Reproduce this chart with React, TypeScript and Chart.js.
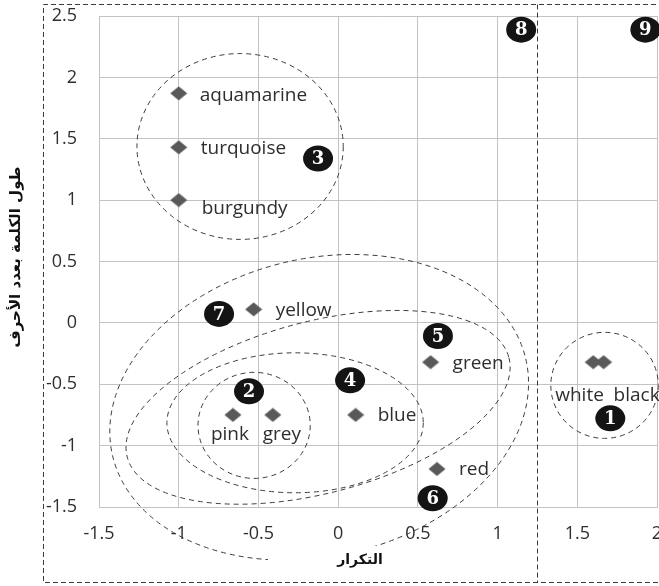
import React, { useEffect, useRef } from 'react';
import { Chart, registerables } from 'chart.js';

Chart.register(...registerables);

// ---------- data ----------
const words = ['aquamarine', 'turquoise', 'burgundy', 'yellow', 'pink', 'grey', 'blue', 'green', 'red', 'white', 'black'];
const frequency = [-1, -1, -1, -0.53, -0.66, -0.41, 0.11, 0.58, 0.62, 1.6, 1.665];
const wordLength = [1.87, 1.43, 1.0, 0.11, -0.75, -0.75, -0.75, -0.32, -1.19, -0.32, -0.32];

const xTickValues = [-1.5, -1, -0.5, 0, 0.5, 1, 1.5, 2];
const yTickValues = [-1.5, -1, -0.5, 0, 0.5, 1, 1.5, 2, 2.5];

const xTitle = 'التكرار';
const yTitle = 'طول الكلمة بعدد الأحرف';

// numbered group markers (data coordinates)
const groupNumbers = ['1', '2', '3', '4', '5', '6', '7', '8', '9'];
const groupX = [1.707, -0.559, -0.126, 0.075, 0.626, 0.593, -0.747, 1.148, 1.927];
const groupY = [-0.778, -0.558, 1.339, -0.468, -0.107, -1.429, 0.073, 2.389, 2.389];

// dashed cluster ellipses (data coordinates; radii along own axes)
const ellipseCx = [1.671, -0.527, -0.615, -0.27, -0.126, -0.119];
const ellipseCy = [-0.509, -0.835, 1.437, -0.814, -0.688, -0.688];
const ellipseRx = [0.337, 0.352, 0.647, 0.804, 1.237, 1.331];
const ellipseRy = [0.432, 0.432, 0.757, 0.57, 0.7, 1.213];
const ellipseTilt = [0, 0, 0, 0, -14.6, -13.2];

const dividerX = 1.25;

// ---------- label placement (style, not data) ----------
const labelPlacement: Record<string, { dx: number; dy: number; align: CanvasTextAlign }> = {
  aquamarine: { dx: 21, dy: 2, align: 'left' },
  turquoise: { dx: 22, dy: 1, align: 'left' },
  burgundy: { dx: 23, dy: 8, align: 'left' },
  yellow: { dx: 22, dy: 1, align: 'left' },
  pink: { dx: -3, dy: 20, align: 'center' },
  grey: { dx: 9, dy: 20, align: 'center' },
  blue: { dx: 22, dy: 1, align: 'left' },
  green: { dx: 22, dy: 1, align: 'left' },
  red: { dx: 22, dy: 1, align: 'left' },
  white: { dx: -38, dy: 33, align: 'left' },
  black: { dx: 10, dy: 33, align: 'left' },
};

const W = 659;
const H = 586;
const GRID = '#c3c3c3';
const TEXT = '#2e2e2e';

function makeDiamond(): HTMLCanvasElement {
  const c = document.createElement('canvas');
  c.width = 18;
  c.height = 15;
  const g = c.getContext('2d')!;
  g.fillStyle = '#595959';
  g.beginPath();
  g.moveTo(0.5, 7.5);
  g.lineTo(9, 0.5);
  g.lineTo(17.5, 7.5);
  g.lineTo(9, 14.5);
  g.closePath();
  g.fill();
  return c;
}

const decorPlugin = {
  id: 'decor',
  afterDatasetsDraw(chart: any) {
    const ctx: CanvasRenderingContext2D = chart.ctx;
    const xs = chart.scales.x;
    const ys = chart.scales.y;

    // ellipses
    ctx.save();
    ctx.strokeStyle = '#3c3c3c';
    ctx.lineWidth = 1;
    ctx.setLineDash([5, 4]);
    for (let i = 0; i < ellipseCx.length; i++) {
      const cx = xs.getPixelForValue(ellipseCx[i]);
      const cy = ys.getPixelForValue(ellipseCy[i]);
      const rx = Math.abs(xs.getPixelForValue(ellipseCx[i] + ellipseRx[i]) - cx);
      const ry = Math.abs(ys.getPixelForValue(ellipseCy[i] + ellipseRy[i]) - cy);
      ctx.beginPath();
      ctx.ellipse(cx, cy, rx, ry, (ellipseTilt[i] * Math.PI) / 180, 0, Math.PI * 2);
      ctx.stroke();
    }
    ctx.restore();

    // white box behind the x-axis title (hides the ellipse there)
    ctx.save();
    ctx.fillStyle = '#ffffff';
    ctx.fillRect(268, 546, 110, 28);
    ctx.restore();

    // frame + divider
    ctx.save();
    ctx.strokeStyle = '#3a3a3a';
    ctx.lineWidth = 1;
    ctx.setLineDash([5, 3]);
    ctx.beginPath();
    ctx.moveTo(W + 5, 4.5);
    ctx.lineTo(43.5, 4.5);
    ctx.lineTo(43.5, 582.5);
    ctx.lineTo(W + 5, 582.5);
    const dx = Math.round(xs.getPixelForValue(dividerX)) + 0.5;
    ctx.moveTo(dx, 4.5);
    ctx.lineTo(dx, 582.5);
    ctx.stroke();
    ctx.restore();

    // word labels
    ctx.save();
    ctx.fillStyle = TEXT;
    ctx.font = '19px "Open Sans"';
    ctx.textBaseline = 'middle';
    for (let i = 0; i < words.length; i++) {
      const p = labelPlacement[words[i]];
      const px = xs.getPixelForValue(frequency[i]);
      const py = ys.getPixelForValue(wordLength[i]);
      ctx.textAlign = p.align;
      ctx.fillText(words[i], px + p.dx, py + p.dy);
    }
    ctx.restore();

    // numbered markers
    ctx.save();
    for (let i = 0; i < groupNumbers.length; i++) {
      const px = xs.getPixelForValue(groupX[i]);
      const py = ys.getPixelForValue(groupY[i]);
      ctx.fillStyle = '#141414';
      ctx.beginPath();
      ctx.ellipse(px, py, 15, 13, 0, 0, Math.PI * 2);
      ctx.fill();
      ctx.fillStyle = '#ffffff';
      ctx.font = 'bold 18px "DejaVu Serif"';
      ctx.textAlign = 'center';
      ctx.textBaseline = 'middle';
      ctx.fillText(groupNumbers[i], px, py + 1);
    }
    ctx.restore();

    // axis titles
    ctx.save();
    ctx.fillStyle = '#111111';
    ctx.textAlign = 'center';
    ctx.textBaseline = 'middle';
    ctx.font = 'bold 14px "DejaVu Sans"';
    ctx.fillText(xTitle, 360, 560);
    ctx.translate(16, 257);
    ctx.rotate(-Math.PI / 2);
    ctx.font = 'bold 15px "DejaVu Sans"';
    ctx.fillText(yTitle, 0, 0);
    ctx.restore();
  },
};

export default function App() {
  const ref = useRef<HTMLCanvasElement | null>(null);

  useEffect(() => {
    if (!ref.current) return;
    const diamond = makeDiamond();
    const chart = new Chart(ref.current, {
      type: 'scatter',
      data: {
        datasets: [
          {
            data: words.map((_, i) => ({ x: frequency[i], y: wordLength[i] })),
            pointStyle: diamond as any,
            pointRadius: 8,
            backgroundColor: '#595959',
            borderWidth: 0,
          },
        ],
      },
      options: {
        responsive: false,
        maintainAspectRatio: false,
        animation: false,
        devicePixelRatio: 1,
        layout: { autoPadding: false, padding: { left: 0, top: 16, right: 2, bottom: 0 } },
        plugins: {
          legend: { display: false },
          tooltip: { enabled: false },
        },
        scales: {
          x: {
            type: 'linear',
            min: -1.5,
            max: 2,
            afterBuildTicks: (s: any) => {
              s.ticks = xTickValues.map((v) => ({ value: v }));
            },
            afterFit: (s: any) => {
              s.height = 79;
              s.paddingLeft = 0;
              s.paddingRight = 0;
            },
            grid: { color: GRID, lineWidth: 1, drawTicks: false },
            border: { color: GRID },
            ticks: {
              padding: 16,
              color: TEXT,
              font: { family: 'Open Sans', size: 18 },
              maxRotation: 0,
              autoSkip: false,
              callback: (v: any) => String(v),
            },
          },
          y: {
            type: 'linear',
            min: -1.5,
            max: 2.5,
            afterBuildTicks: (s: any) => {
              s.ticks = yTickValues.map((v) => ({ value: v }));
            },
            afterFit: (s: any) => {
              s.width = 99;
              s.paddingTop = 0;
              s.paddingBottom = 0;
            },
            grid: { color: GRID, lineWidth: 1, drawTicks: false },
            border: { color: GRID },
            ticks: {
              padding: 22,
              color: TEXT,
              font: { family: 'Open Sans', size: 18 },
              autoSkip: false,
              callback: (v: any) => String(v),
            },
          },
        },
      },
      plugins: [decorPlugin],
    });
    return () => chart.destroy();
  }, []);

  return (
    <div style={{ position: 'fixed', left: 0, top: 0, width: W, height: H, background: '#ffffff' }}>
      <canvas ref={ref} width={W} height={H} style={{ display: 'block', width: W, height: H }} />
    </div>
  );
}
